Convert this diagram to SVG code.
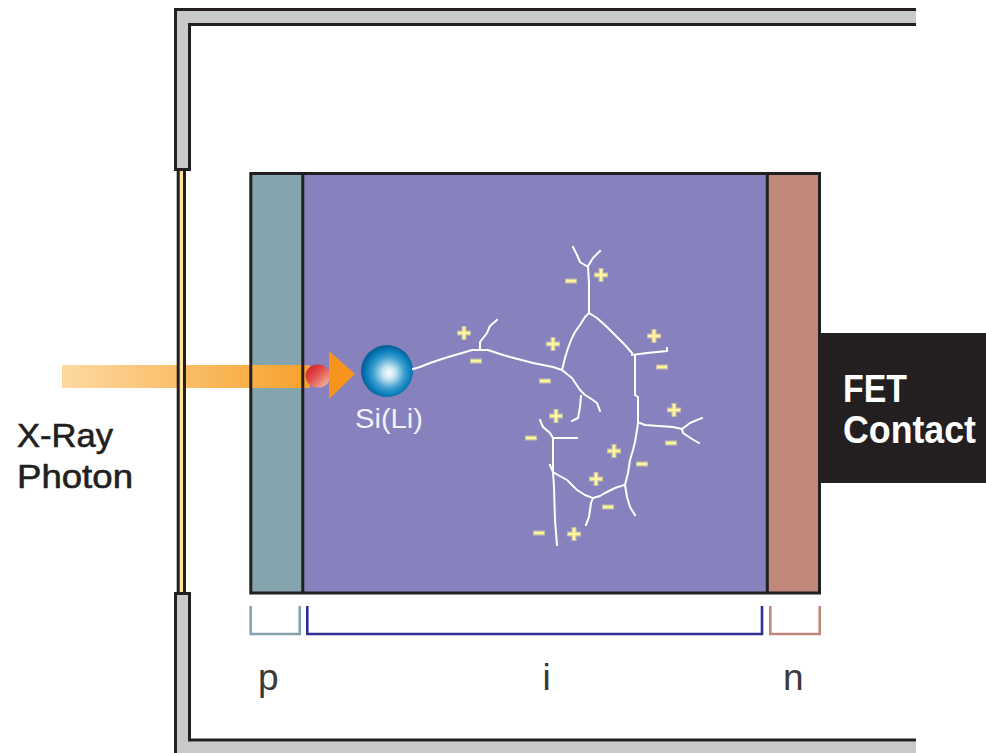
<svg xmlns="http://www.w3.org/2000/svg" width="986" height="753" viewBox="0 0 986 753">
  <defs>
    <style>
      .frame-fill { fill: #c8c9cb; }
      .outline { fill: none; stroke: #231f20; stroke-width: 3; }
      .track { fill: none; stroke: #ffffff; stroke-width: 2; stroke-linejoin: round; stroke-linecap: square; }
      .bracket { fill: none; stroke-width: 2.6; }
      .label { font-family: "Liberation Sans", Arial, sans-serif; }
      .halo { stroke: #d8d3a6; stroke-width: 5; stroke-opacity: 0.75; fill: none; }
      .core { stroke: #fff59a; stroke-width: 2.6; fill: none; }
    </style>
    <linearGradient id="beam" x1="62" y1="0" x2="310" y2="0" gradientUnits="userSpaceOnUse">
      <stop offset="0" stop-color="#fdd9a2"/>
      <stop offset="1" stop-color="#f7a12b"/>
    </linearGradient>
    <linearGradient id="hit" x1="0.1" y1="0.1" x2="0.9" y2="0.9">
      <stop offset="0" stop-color="#d21f27"/>
      <stop offset="0.45" stop-color="#e0544c"/>
      <stop offset="1" stop-color="#f4b4a2"/>
    </linearGradient>
    <radialGradient id="atom" cx="0.53" cy="0.53" r="0.5" fx="0.54" fy="0.54">
      <stop offset="0" stop-color="#ffffff"/>
      <stop offset="0.25" stop-color="#c4e2f1"/>
      <stop offset="0.6" stop-color="#3f9fd0"/>
      <stop offset="0.85" stop-color="#0a7ebc"/>
      <stop offset="1" stop-color="#08639c"/>
    </radialGradient>
    <g id="plus">
      <path class="halo" d="M-7 0H7M0-7V7"/>
      <path class="core" d="M-6 0H6M0-6V6"/>
    </g>
    <g id="minus">
      <path class="halo" d="M-6 0H6"/>
      <path class="core" d="M-5 0H5"/>
    </g>
  </defs>

  <rect width="986" height="753" fill="#ffffff"/>

  <!-- cryostat housing -->
  <g id="housing">
    <path class="frame-fill" d="M174 8H916V26H191V171H174Z"/>
    <path class="outline" d="M916 9.5H175.5V169.5H189.5V24.5H916"/>
    <path class="frame-fill" d="M174 753V592H191V741.5H916V753Z"/>
    <path class="outline" d="M175.5 753V593.5H189.5V740H916"/>
  </g>

  <!-- detector crystal: p / i / n layers -->
  <g id="detector">
    <rect x="250.8" y="173.5" width="52" height="419.5" fill="#84a4ae"/>
    <rect x="302.8" y="173.5" width="464.5" height="419.5" fill="#8781bd"/>
    <rect x="767.3" y="173.5" width="52.2" height="419.5" fill="#c0887a"/>
  </g>

  <!-- FET contact -->
  <g id="fet">
    <rect x="819" y="333" width="167" height="150" fill="#231f20"/>
    <text class="label" x="843" y="402" font-size="38" font-weight="bold" fill="#ffffff" textLength="64" lengthAdjust="spacingAndGlyphs">FET</text>
    <text class="label" x="843" y="443" font-size="38" font-weight="bold" fill="#ffffff" textLength="133" lengthAdjust="spacingAndGlyphs">Contact</text>
  </g>

  <!-- incoming photon beam -->
  <g id="photon">
    <rect x="62" y="365" width="248" height="23" fill="url(#beam)"/>
  </g>

  <!-- layer borders drawn over the beam -->
  <g id="detector-outline">
    <rect class="outline" x="250.8" y="173.5" width="568.7" height="419.5"/>
    <line class="outline" x1="302.8" y1="173.5" x2="302.8" y2="593"/>
    <line class="outline" x1="767.3" y1="173.5" x2="767.3" y2="593"/>
  </g>

  <!-- entrance window -->
  <g id="window">
    <rect x="178.2" y="169.5" width="6.3" height="424" fill="#fde49a" stroke="#231f20" stroke-width="3"/>
  </g>

  <!-- absorption point and arrowhead -->
  <g id="impact">
    <ellipse cx="318" cy="376" rx="12.5" ry="11.5" fill="url(#hit)"/>
    <polygon points="329,351 355,374 329,399" fill="#f7941d"/>
  </g>

  <!-- Si(Li) atom -->
  <g id="atom-node">
    <circle cx="387" cy="371" r="26" fill="url(#atom)"/>
    <text class="label" x="355" y="428" font-size="27" fill="#f2f0fa" textLength="68" lengthAdjust="spacingAndGlyphs">Si(Li)</text>
  </g>

  <!-- electron cascade tracks -->
  <g id="connectors">
    <polyline class="track" points="413,369 420,367 430,363 445,358 462,353 472,350 488,350 500,354 510,357 533,363 553,367 562,370 572,378 580,390 585,395 590,398 597,403 600,411"/>
    <polyline class="track" points="480,350 480,342 487,333 490,326 497,320"/>
    <polyline class="track" points="581,396 580,407 578,418 572,421"/>
    <polyline class="track" points="562,370 565,358 568,348 572,338 575,332 580,325 585,317 589,313 589,283 588,267 580,262 577,255 573,247"/>
    <polyline class="track" points="588,266 593,258 600,251"/>
    <polyline class="track" points="589,313 597,318 607,327 615,335 625,345 632,353"/>
    <polyline class="track" points="632,355 647,353 667,351 667,348"/>
    <polyline class="track" points="635,356 635,395 638,397 638,423 637,430 635,442 633,450 630,460 628,473 625,485 627,497 630,507 635,515"/>
    <polyline class="track" points="640,423 645,425 673,427 682,429 683,433 692,439 699,443"/>
    <polyline class="track" points="682,429 690,423 702,418"/>
    <polyline class="track" points="624,485 615,488 605,493 600,496 593,498 591,503 589,517 586,525"/>
    <polyline class="track" points="593,498 585,495 577,490 567,480 558,475 553,472 550,465"/>
    <polyline class="track" points="540,420 543,427 550,433 553,438 577,438"/>
    <polyline class="track" points="553,438 553,465 553,472 554,487 555,520 557,545"/>
  </g>

  <!-- charge carriers -->
  <g id="charges">
    <use href="#plus" x="464" y="333"/>
    <use href="#minus" x="476" y="361"/>
    <use href="#plus" x="601" y="275"/>
    <use href="#minus" x="571" y="281"/>
    <use href="#plus" x="553" y="344"/>
    <use href="#minus" x="545" y="381"/>
    <use href="#plus" x="654" y="336"/>
    <use href="#minus" x="662" y="367"/>
    <use href="#plus" x="556" y="416"/>
    <use href="#minus" x="531" y="438"/>
    <use href="#plus" x="674" y="410"/>
    <use href="#minus" x="671" y="443"/>
    <use href="#plus" x="614" y="451"/>
    <use href="#minus" x="642" y="464"/>
    <use href="#plus" x="596" y="479"/>
    <use href="#minus" x="608" y="507"/>
    <use href="#minus" x="539" y="533"/>
    <use href="#plus" x="574" y="534"/>
  </g>

  <!-- region brackets -->
  <g id="brackets">
    <polyline class="bracket" stroke="#84a4ae" points="250.7,606 250.7,634 299.7,634 299.7,606"/>
    <polyline class="bracket" stroke="#2e3192" points="307.3,606 307.3,634 762,634 762,606"/>
    <polyline class="bracket" stroke="#c0887a" points="770.3,606 770.3,634 819.7,634 819.7,606"/>
  </g>

  <!-- labels -->
  <g id="labels">
    <text class="label" x="17" y="447" font-size="33" fill="#231f20" stroke="#231f20" stroke-width="0.6" textLength="96" lengthAdjust="spacingAndGlyphs">X-Ray</text>
    <text class="label" x="17" y="488" font-size="33" fill="#231f20" stroke="#231f20" stroke-width="0.6" textLength="116" lengthAdjust="spacingAndGlyphs">Photon</text>
    <text class="label" x="258" y="690" font-size="37" fill="#3a3a3a">p</text>
    <text class="label" x="542.5" y="690" font-size="37" fill="#3a3a3a">i</text>
    <text class="label" x="783" y="690" font-size="37" fill="#3a3a3a">n</text>
  </g>
</svg>
